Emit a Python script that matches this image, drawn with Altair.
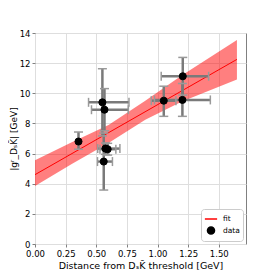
import altair as alt
import pandas as pd

# data points
pt_x = [0.355, 0.550, 0.567, 0.575, 0.593, 0.561, 1.206, 1.051, 1.203]
pt_y = [6.80, 9.40, 8.91, 6.33, 6.29, 5.47, 11.13, 9.51, 9.56]
pt_x_lo = [0.355, 0.437, 0.461, 0.512, 0.530, 0.510, 1.030, 0.949, 0.975]
pt_x_hi = [0.355, 0.767, 0.762, 0.693, 0.660, 0.632, 1.417, 1.150, 1.431]
pt_y_lo = [6.29, 7.17, 7.51, 5.95, 5.90, 3.58, 9.88, 8.47, 8.47]
pt_y_hi = [7.43, 11.63, 10.31, 6.70, 6.68, 7.36, 12.38, 10.47, 10.65]

# fit line and its band
line_x = [0.0, 1.648]
line_y = [4.60, 12.25]
band_x = [0.0, 0.3, 0.6, 0.9, 1.2, 1.648]
band_lo = [3.85, 5.30, 6.70, 8.25, 9.45, 10.91]
band_hi = [5.55, 6.75, 7.90, 9.50, 11.20, 13.53]

x_ticks = [0.0, 0.25, 0.5, 0.75, 1.0, 1.25, 1.5]
y_ticks = [0, 2, 4, 6, 8, 10, 12, 14]
series_names = ["fit", "data"]

pts = pd.DataFrame({"x": pt_x, "y": pt_y, "xlo": pt_x_lo, "xhi": pt_x_hi,
                    "ylo": pt_y_lo, "yhi": pt_y_hi, "series": "data"})
line = pd.DataFrame({"x": line_x, "y": line_y, "series": "fit"})
band = pd.DataFrame({"x": band_x, "lo": band_lo, "hi": band_hi})

FONT = "DejaVu Sans"
xs = alt.Scale(domain=[0, 1.722], nice=False, zero=False)
ys = alt.Scale(domain=[0, 14], nice=False, zero=False)
xax = alt.Axis(values=x_ticks, format=".2f", labelOverlap=False, labelFlush=False,
               title="Distance from DₛK̄ threshold [GeV]")
yax = alt.Axis(values=y_ticks, format="d", labelOverlap=False, labelFlush=False,
               title="|gʳ_DₛK̄| [GeV]", titleFontSize=9, titlePadding=1)

leg = alt.Legend(title=None, orient="bottom-right", offset=3, padding=3,
                 fillColor="white", strokeColor="#cccccc", cornerRadius=3,
                 labelFontSize=7.5, labelFont=FONT, rowPadding=0,
                 symbolStrokeWidth=1.5, labelOffset=5)

stroke_scale = alt.Scale(domain=series_names, range=["#ff0000", "#000000"])
fill_scale = alt.Scale(domain=series_names, range=["#ff0000", "#000000"])
shape_scale = alt.Scale(domain=series_names, range=["stroke", "circle"])
size_scale = alt.Scale(domain=series_names, range=[150, 50])

band_layer = alt.Chart(band).mark_area(color="#ff0000", opacity=0.5).encode(
    x=alt.X("x:Q", scale=xs, axis=xax),
    y=alt.Y("lo:Q", scale=ys, axis=yax),
    y2="hi:Q",
)

line_layer = alt.Chart(line).mark_line(strokeWidth=1).encode(
    x=alt.X("x:Q", scale=xs, axis=xax),
    y=alt.Y("y:Q", scale=ys, axis=yax),
    stroke=alt.Stroke("series:N", scale=stroke_scale, legend=leg),
)

ECOL = "#7a7a7a"
CCOL = "#9a9a9a"
vbars = alt.Chart(pts).mark_rule(color=ECOL, strokeWidth=2.5).encode(
    x=alt.X("x:Q", axis=xax), y=alt.Y("ylo:Q", axis=yax), y2="yhi:Q")
hbars = alt.Chart(pts).transform_filter("datum.xhi > datum.xlo").mark_rule(
    color=ECOL, strokeWidth=2.5).encode(x=alt.X("xlo:Q", axis=xax), x2="xhi:Q", y=alt.Y("y:Q", axis=yax))
cap_lo = alt.Chart(pts).mark_tick(orient="horizontal", size=9, thickness=1.5, color=CCOL, opacity=1).encode(
    x=alt.X("x:Q", axis=xax), y=alt.Y("ylo:Q", axis=yax))
cap_hi = alt.Chart(pts).mark_tick(orient="horizontal", size=9, thickness=1.5, color=CCOL, opacity=1).encode(
    x=alt.X("x:Q", axis=xax), y=alt.Y("yhi:Q", axis=yax))
cap_l = alt.Chart(pts).transform_filter("datum.xhi > datum.xlo").mark_tick(
    orient="vertical", size=9, thickness=1.5, color=CCOL, opacity=1).encode(
    x=alt.X("xlo:Q", axis=xax), y=alt.Y("y:Q", axis=yax))
cap_r = alt.Chart(pts).transform_filter("datum.xhi > datum.xlo").mark_tick(
    orient="vertical", size=9, thickness=1.5, color=CCOL, opacity=1).encode(
    x=alt.X("xhi:Q", axis=xax), y=alt.Y("y:Q", axis=yax))

points = alt.Chart(pts).mark_point(filled=True, opacity=1, strokeWidth=1).encode(
    x=alt.X("x:Q", axis=xax), y=alt.Y("y:Q", axis=yax),
    fill=alt.Fill("series:N", scale=fill_scale, legend=leg),
    stroke=alt.Stroke("series:N", scale=stroke_scale, legend=leg),
    shape=alt.Shape("series:N", scale=shape_scale, legend=leg),
    size=alt.Size("series:N", scale=size_scale, legend=leg),
)

chart = alt.layer(band_layer, line_layer, vbars, hbars, cap_lo, cap_hi, cap_l, cap_r, points).properties(
    width=211, height=211,
    autosize=alt.AutoSizeParams(type="none"),
    padding={"left": 27, "top": 25, "right": 20, "bottom": 30},
).configure_view(
    stroke="#808080", strokeWidth=1
).configure_axis(
    domain=False, grid=True, gridColor="#dedede", gridWidth=1,
    tickColor="#808080", tickSize=3, labelFont=FONT, titleFont=FONT,
    labelFontSize=8.5, titleFontSize=9.5, labelColor="black", titleColor="black",
    titleFontWeight="normal", labelPadding=2, titlePadding=3,
    labelOverlap=False, labelFlush=False,
)

chart.save("out.html", embed_options={"renderer": "svg", "actions": False})
